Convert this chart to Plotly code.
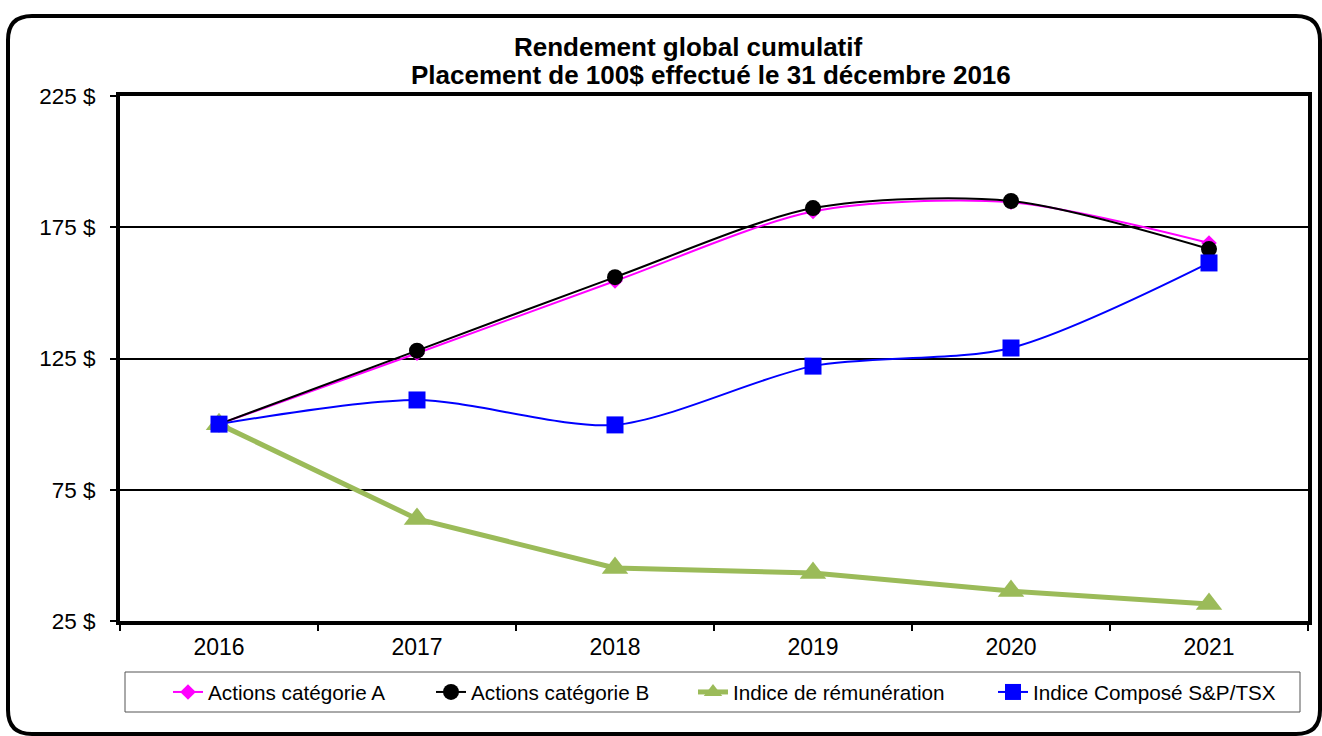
import plotly.graph_objects as go

years = ["2016", "2017", "2018", "2019", "2020", "2021"]
actions_a = [100, 127, 154.5, 181, 184.5, 169]
actions_b = [100, 128, 156, 182.3, 185, 166.7]
indice_rem = [100, 63.9, 45.2, 43.3, 36.4, 31.5]
indice_tsx = [100, 109.2, 99.7, 122.1, 129, 161.4]

y_ticks = [25, 75, 125, 175, 225]
y_labels = ["25 $", "75 $", "125 $", "175 $", "225 $"]

title1 = "Rendement global cumulatif"
title2 = "Placement de 100$ effectué le 31 décembre 2016"

FONT = "Arial, Liberation Sans, sans-serif"
W, H = 1322, 736
ML, MR, MT, MB = 120, 14, 96, 115
PW, PH = W - ML - MR, H - MT - MB


def px(x):
    return (x - ML) / PW


def py(y):
    return (H - MB - y) / PH


fig = go.Figure()
fig.add_trace(go.Scatter(x=years, y=actions_a, name="Actions catégorie A", mode="lines+markers",
                         legend="legend",
                         line=dict(color="#FF00FF", width=2, shape="spline", smoothing=0.8),
                         marker=dict(symbol="diamond", size=12, color="#FF00FF")))
fig.add_trace(go.Scatter(x=years, y=actions_b, name="Actions catégorie B", mode="lines+markers",
                         legend="legend2",
                         line=dict(color="#000000", width=2, shape="spline", smoothing=0.8),
                         marker=dict(symbol="circle", size=16, color="#000000")))
fig.add_trace(go.Scatter(x=years, y=indice_rem, name="Indice de rémunération", mode="lines+markers",
                         legend="legend3",
                         line=dict(color="#9BBB59", width=5),
                         marker=dict(symbol="triangle-up", size=23, color="#9BBB59")))
fig.add_trace(go.Scatter(x=years, y=indice_tsx, name="Indice Composé S&P/TSX", mode="lines+markers",
                         legend="legend4",
                         line=dict(color="#0000FF", width=2, shape="spline", smoothing=0.8),
                         marker=dict(symbol="square", size=17, color="#0000FF")))

# outer rounded frame
L, T, R, B, r = 8, 16, 1320, 734, 24
path = (f"M {px(L + r)},{py(T)} L {px(R - r)},{py(T)} Q {px(R)},{py(T)} {px(R)},{py(T + r)} "
        f"L {px(R)},{py(B - r)} Q {px(R)},{py(B)} {px(R - r)},{py(B)} "
        f"L {px(L + r)},{py(B)} Q {px(L)},{py(B)} {px(L)},{py(B - r)} "
        f"L {px(L)},{py(T + r)} Q {px(L)},{py(T)} {px(L + r)},{py(T)} Z")
shapes = [
    dict(type="path", xref="paper", yref="paper", path=path, line=dict(color="black", width=4)),
    dict(type="rect", xref="paper", yref="paper", x0=px(125), x1=px(1300), y0=py(672), y1=py(712),
         line=dict(color="#555555", width=1)),
]

annotations = [
    dict(text=f"<b>{title1}</b>", x=px(688), y=py(47), xref="paper", yref="paper", showarrow=False,
         xanchor="center", yanchor="middle", font=dict(family=FONT, size=26, color="black")),
    dict(text=f"<b>{title2}</b>", x=px(711), y=py(75), xref="paper", yref="paper", showarrow=False,
         xanchor="center", yanchor="middle", font=dict(family=FONT, size=26, color="black")),
]


def leg(xpix):
    return dict(orientation="h", x=px(xpix), xanchor="left", y=py(692), yanchor="middle",
                font=dict(size=20.7, family=FONT), bgcolor="rgba(0,0,0,0)", borderwidth=0)


fig.update_layout(
    width=W, height=H,
    margin=dict(l=ML, r=MR, t=MT, b=MB, autoexpand=False),
    paper_bgcolor="white", plot_bgcolor="white",
    font=dict(family=FONT, color="black"),
    showlegend=True,
    legend=leg(168), legend2=leg(431), legend3=leg(693), legend4=leg(993),
    shapes=shapes, annotations=annotations,
    xaxis=dict(type="category", range=[-0.5, 5.5], tickson="boundaries", ticks="outside",
               ticklen=6, tickwidth=2, tickcolor="black", showgrid=False, showline=True,
               linecolor="black", linewidth=4, mirror=True, tickfont=dict(size=23, family=FONT),
               ticklabelstandoff=2, fixedrange=True),
    yaxis=dict(range=[25, 225], tickvals=y_ticks, ticktext=y_labels, ticks="outside", ticklen=6,
               tickwidth=2, tickcolor="black", showgrid=True, gridcolor="black", gridwidth=2,
               zeroline=False, showline=True, linecolor="black", linewidth=4, mirror=True,
               tickfont=dict(size=22.5, family=FONT), ticklabelstandoff=10, fixedrange=True),
)

fig.write_html("out.html", config={"displayModeBar": False},
               post_script="document.body.style.margin='0';document.body.style.overflow='hidden';")
